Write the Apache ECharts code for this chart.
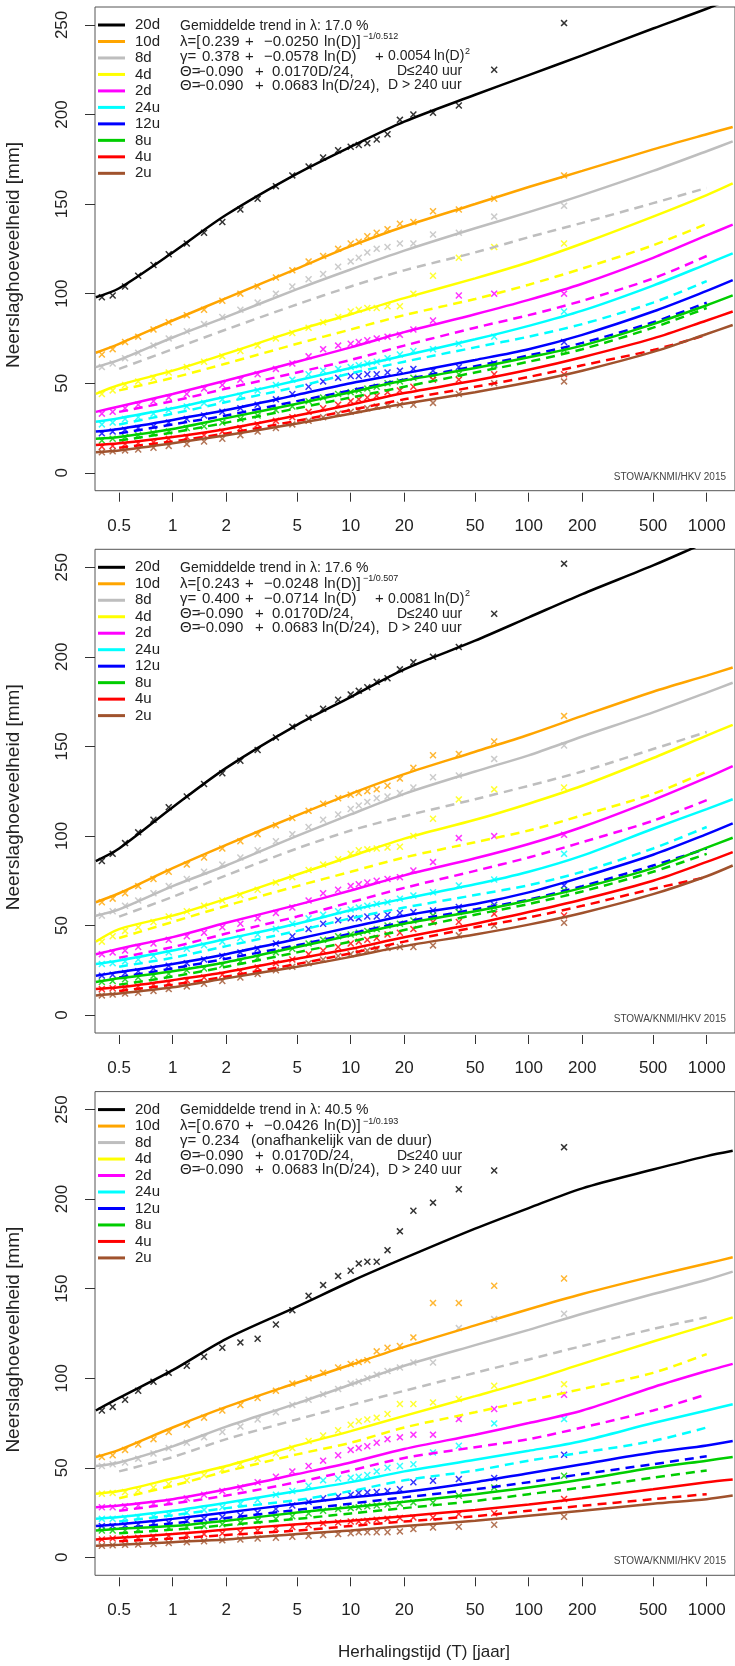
<!DOCTYPE html>
<html><head><meta charset="utf-8">
<script src="https://cdn.jsdelivr.net/npm/echarts@6/dist/echarts.min.js"></script>
<style>html,body{margin:0;padding:0;background:#fff}#c{width:735px;height:1666px}</style>
</head><body><div id="c"></div>
<script>
// ---------- data ----------
const durations = ['20d','10d','8d','4d','2d','24u','12u','8u','4u','2u'];
const colors = ['#000000','#FFA500','#BEBEBE','#FFFF00','#FF00FF','#00FFFF','#0000FF','#00CD00','#FF0000','#A0522D'];
const dashedIdx = [2,3,4,5,6,7,8];
const xTickLabels = [0.5,1,2,5,10,20,50,100,200,500,1000];
const yTickLabels = [0,50,100,150,200,250];

const tLine = [0.37,0.5,1,2,5,10,20,50,100,200,500,1000,1400];
const tDash = [0.5,1,2,5,10,20,50,100,200,500,1000];
const tObs = [158,64,40.5,29,22.5,18.9,16.1,14,12.4,11.1,10,8.5,7,5.8,4.7,3.8,3.0,2.4,1.9,1.5,1.2,0.95,0.78,0.64,0.54,0.46,0.4];

// panel 1
const p1Solid = [
 [98,103,123,144,167,182,196,211,222,233,248,259,265],
 [67,72,85,97.5,114,126.5,137.5,150,159.5,168.5,180.5,189,193],
 [59,63,75.5,87,102.5,113.5,124,136.5,145.5,155,168.5,179.5,185],
 [44,49,57,66.5,79.5,88.5,97.5,108.5,117.5,128,143,155,161.5],
 [34,37,44,51.5,62,70,78.5,88.5,96.5,105.5,120,132.5,138.5],
 [28.5,30.5,36,42.5,51.5,58.5,65.5,74.5,82,90.5,104.5,116.5,122.5],
 [23,24.5,29.5,35,43.5,50,55.5,63,69,77,90,101.5,107.5],
 [19,20,24.5,30.5,38.5,45,51.5,58.5,64.5,71,83,93.5,99],
 [15.5,16.5,20,24.5,32,38,44.5,51.5,57.5,64.5,75,85,90],
 [11.5,12.5,16.5,21,27.5,33,38.5,45,50.5,57,67.5,77.5,82.5]
];
const p1Dashed = [
 [58,69,80,94,104,113,123,131.5,139.5,150.5,159],
 [46,53,61,72,80,88,97,105,114,127,139],
 [34,40,47,56,63,71,81,88,96,108.5,121],
 [27,33,39.5,48,55.5,62,70,76,83,95,107],
 [22,27,32,40,46,52,59.5,65.5,72.5,84,95],
 [18,22.5,28,36,42,48,56,62,69,81,92],
 [14,17.5,22,29,35,41,48,53.5,60,68.5,77]
];
const p1Obs = [
 [251,225,205,201,200,197,189,186,184,183,182,180,176,171,166,160,153,147,140,134,128,122,116,110,104,99,98],
 [166,153,147,146,140,139,136,134,132,129,128,125,121,118,113,109,104,100,96,91,88,84,80,76,73,69,66],
 [149,143,134,133,128,128,126,125,123,120,118,115,111,108,104,100,95,91,87,83,79,75,71,67,64,61,59],
 [128,126,120,110,100,93,93,92,92,91,90,87,84,81,78,75,71,68,65,62,59,56,53,51,49,46,44],
 [100,100,99,85,80,77,76,75,74,73,72,71,69,65,61,58,55,52,49,47,44,42,40,38,36,34,33],
 [90,76,72,69,68,66,64,62,61,60,59,58,57,55,52,49,46,43,41,39,37,35,33,31,30,28,27],
 [73,61,59,57,58,57,56,55,55,54,54,53,51,48,44,41,38,36,34,32,30,28,26,25,24,23,22],
 [68.5,60,55,54.5,53,51,50,48,47,46,45,44,42,40,37,35,32,30,28,26,25,23,22,21,20,19,18],
 [55,55,52,52,48,46,45,43,42,41,40,38,36,34,31,29,27,25,23,21,20,19,17,16.5,16,15,14.5],
 [51,50,44,39,38,38,37.5,37,36,35,34,33,31,29,27,25,23,21,19,17.5,16,15,14,13,12.5,12,11.5]
];
// panel 2
const p2Solid = [
 [86,93,116,138,162,177.5,193,209,222,235,251,264,270],
 [63,68,82,95,111.5,123.5,134.5,147,156.5,167,180.5,189.5,194],
 [55.5,59,72,83.5,100,112,123.5,136,145,155.5,169,180,185.5],
 [41,48,55.5,65,78.5,88.5,98.5,109,118,128,143.5,156,162],
 [34,37,43.5,51.5,61.5,69.5,78,87.5,95.5,105,120,132.5,139],
 [28.5,30.5,36,42.5,51,58.5,65,73,80,89,104,115,120.5],
 [22,24,28.5,34,42.5,49,55.5,62,68.5,77,89.5,101,107],
 [18.5,20.5,24.5,29.5,38,44.5,51,58,64,71,82,93.5,99],
 [14.5,15.5,19.5,24,31.5,37,43.5,51,57.5,64.5,75,85.5,91],
 [11,12,15.5,20.5,27,32.5,38.5,45,50.5,57,67.5,77.5,83.5]
];
const p2Dashed = [
 [55,66,78,93,103,111,120.5,128,136,148.5,158],
 [43,52,61,72,80,88,96.5,103,111.5,123.5,136],
 [32,38,45.5,55,63,71,80.5,88,96.5,108.5,120],
 [27,32,38.5,47,54,60,67,72.5,80,93,105],
 [21,26,31.5,39,45.5,52,59,64.5,72,83.5,93],
 [17,21.5,27,35,41,47.5,56,62,69,80,90],
 [13.5,17,21.5,28.5,34.5,41,49,54.5,61,70.5,77]
];
const p2Obs = [
 [252,224,205.5,200,197,193,188,186,183,181,179,176,171,166,161,155,148,142,135,129,122,116,109,102,96,90,86],
 [167,152.7,145.8,145,138,132,128,126,125,124,123,121,118,114,110,106,101,97,93,88,84,80,76,72,68,65,63],
 [150.5,143,133.7,132.8,127,124,122,121,119,117,115,112,109,105,101,97,92,88,84,80,76,72,68,64,61,58,55.5],
 [127,126,120.4,109.6,100,94,93.5,93,92.5,92,90,87,84,81,77,74,70,67,64,61,58,55,52,49,47,44,41],
 [100.6,99.9,98.8,85.4,80.7,77,76,75,74,73,72,70,68,64,60,57,54,51,49,46,44,42,40,38,36,35,34],
 [90,75.7,72.4,68.6,66.8,65,63,62,61,60,59,58,56,54,51,48,45,43,41,39,37,35,33,31,30,29,28.5],
 [72.4,61.6,60.3,58.4,57.5,57,56,55,55,54,54,53,51,48,44,40,37,35,33,31,29,27.5,26,24.5,23.5,22.5,22],
 [69.6,60.3,57.5,55.6,52.8,51,50,48,47,46,45,44,42,40,37,35,32,30,28,26,25,23,22,21,20,19,18.5],
 [55.6,56.5,52,52,48,46,45,43,42,41,40,38,36,34,31,29,26.5,24.5,22.5,21,19.5,18,17,16,15.5,15,14.5],
 [51.5,50,44.5,38.9,38,38,37.5,37,36,35,34,33,31,29,27,25,23,21,19,17.5,16,14.5,13.5,12.5,12,11.5,11]
];
// panel 3
const p3Solid = [
 [82,89,104.5,122,140,154,167,183.5,195,206,216.5,224,227],
 [56,60,72.5,84,97.5,107.5,117.5,129.5,138.5,147,157,164,167.5],
 [51,53,62,73,86,96.5,107,118.5,127,136,147,155,159.5],
 [35.5,37,44,51,62.5,70.5,79,90,98.5,108,120.5,129.5,134],
 [28,29,32.5,38,46.5,53,60.5,68.5,75,82,95,104,108],
 [21.5,22.5,26,30.5,37,42,48,54.5,59.5,65,75,82,85.5],
 [17.5,18.5,21.5,25,30,33.5,36.5,42,47,52,58.5,62.5,65],
 [15,16,17.5,20.5,25,28,31,35.3,39,43.5,50,54,56],
 [10,11,13,15.5,18.5,20.5,23,26.5,29.5,33,38,42,43.5],
 [6.5,7,8.5,10,13,15,17.5,20.5,23.3,26,30,32.5,34.5]
];
const p3Dashed = [
 [48,56,66,77,85,93,103,110.5,118,127.5,134],
 [33,40,48,57.5,64,72.5,81,87.5,94,103,113.5],
 [26,30,34.5,42,48.5,55.5,61.5,66,72.5,82,91],
 [20,23.5,27.5,32,37,43,48.5,54,58.5,65,72.5],
 [16,19,22,26.5,30,33.5,38,42,46.5,52,56.5],
 [13.5,15.5,18,21.5,24.5,27.5,31.5,35.3,39,44.5,48.5],
 [9,10.5,12.5,15,17.5,20,23,26,28.8,32.5,35.3]
];
const p3Obs = [
 [229,216,205.5,198,193.5,182,171.5,165,165,164,160,157,152,146,138,130,122,120,117,112,107,103,98,93,88,84,82],
 [155.7,151.6,142,142,122.8,118,117,115,110,109,108,106,103,100,97,93,89,85,82,78,74,70,66,63,60,57,56],
 [136,133,128,108.8,108.8,106,104,102,100,98,97,94,91,88,85,81,77,73,70,67,64,61,58,55,53,52,51],
 [96.7,95.8,88.4,86.5,85.6,85.6,80,78,77,76,74,71,68,65,61,58,55,52,49,46,43,41,39,37.5,36.5,36,35.5],
 [90.8,82.8,77.2,68.5,68.5,67,66,64,62,61,60,57,54,51,48,45,42,39,37,35,33,31,30,29,28.5,28,28],
 [77.2,74.8,62.3,58.6,52,51,50,48,46,45,44.5,44,43,40,37,35,32,30,28,26.5,25,24,23,22.5,22,21.5,21.5],
 [57.3,44.3,43.7,42.8,41.9,38,37,36.5,36.3,36,35,34,33,31,29,27,25,23.5,22.5,21.5,20.5,19.5,19,18.5,18,17.5,17.5],
 [45.6,39,34.4,30.7,30.7,30,29.5,29,28.5,28,27.5,27,26,24.5,23,21.5,20.5,19.5,18.5,17.5,17,16.5,16,15.5,15,15,15],
 [32.6,24.6,24.2,22.3,22.3,22,21.5,21,20.5,20,20,19.5,19,18,17,16,15,14,13.5,13,12.5,12,11.5,11,10.5,10.5,10],
 [22.7,18.2,17.1,16.7,15.8,14.5,14,14,14,14,13.5,13,12.5,12,11.5,11,10.5,10,9.5,9,8.5,8,7.5,7.2,7,6.8,6.5]
];

// annotation texts (per panel)
const trendTexts = ['Gemiddelde trend in \u03bb: 17.0 %','Gemiddelde trend in \u03bb: 17.6 %','Gemiddelde trend in \u03bb: 40.5 %'];
const lambdaA = ['0.239','0.243','0.670'];
const lambdaB = ['\u22120.0250','\u22120.0248','\u22120.0426'];
const lambdaExps = ['\u22121/0.512','\u22121/0.507','\u22121/0.193'];
const gammaA = ['0.378','0.400','0.234'];
const gammaB = ['\u22120.0578','\u22120.0714',''];
const gammaC = ['0.0054','0.0081',''];
const gammaNote = ['','','(onafhankelijk van de duur)'];
const thetaTexts = ['0.0170D/24,','0.0683 ln(D/24),'];
const thetaConds = ['D\u2264240 uur','D > 240 uur'];
const panels = [
  {solid:p1Solid, dashed:p1Dashed, obs:p1Obs},
  {solid:p2Solid, dashed:p2Dashed, obs:p2Obs},
  {solid:p3Solid, dashed:p3Dashed, obs:p3Obs}
];

// ---------- chart ----------
const FONT = '"Liberation Sans", Arial, sans-serif';
const TXT = '#222';
const PANEL_DY = [0, 542.3, 1084.6];
const XMIN = -0.4365, XMAX = 3.159;
const xTickVals = xTickLabels.map(v => Math.log10(v));
const crossPath = 'path://M0,1.5L1.5,0L5,3.5L8.5,0L10,1.5L6.5,5L10,8.5L8.5,10L5,6.5L1.5,10L0,8.5L3.5,5Z';

const chart = echarts.init(document.getElementById('c'), null, {renderer:'canvas', width:735, height:1666});
const grids = [], xAxes = [], yAxes = [], series = [], graphics = [];

function txt(x, y, s, size, extra) {
  const o = {type:'text', x:x, y:y, z:10, silent:true,
    style:{text:s, font:size + 'px ' + FONT, fill:TXT, align:'left', verticalAlign:'middle'}};
  if (extra) Object.assign(o.style, extra);
  graphics.push(o);
}

panels.forEach((p, k) => {
  const dy = PANEL_DY[k];
  grids.push({left:95, right:-5, top:7 + dy, height:483.7, show:true, borderColor:'#555', borderWidth:1, backgroundColor:'transparent'});
  xAxes.push({type:'value', gridIndex:k, min:XMIN, max:XMAX, offset:2, position:'bottom',
    axisLine:{show:false, onZero:false}, splitLine:{show:false},
    axisTick:{show:true, customValues:xTickVals, length:9, lineStyle:{color:'#333', width:1}},
    axisLabel:{show:true, customValues:xTickVals, fontSize:17, color:TXT, margin:25, fontFamily:FONT,
      formatter: v => String(Math.round(Math.pow(10, v) * 100) / 100)}
  });
  yAxes.push({type:'value', gridIndex:k, min:-10, max:260, position:'left',
    axisLine:{show:false, onZero:false}, splitLine:{show:false},
    axisTick:{show:true, customValues:yTickLabels, length:10, lineStyle:{color:'#333', width:1}},
    axisLabel:{show:true, customValues:yTickLabels, rotate:90, margin:24, fontSize:17, color:TXT, fontFamily:FONT}
  });
  // observations
  p.obs.forEach((vals, d) => {
    series.push({type:'scatter', name:'obs-' + durations[d], xAxisIndex:k, yAxisIndex:k, silent:true,
      symbol:crossPath, symbolSize:7, itemStyle:{color:colors[d]},
      data: tObs.map((t, j) => [Math.log10(t), vals[j]]), z:2});
  });
  // dashed fits
  p.dashed.forEach((vals, n) => {
    const d = dashedIdx[n];
    series.push({type:'line', name:'dash-' + durations[d], xAxisIndex:k, yAxisIndex:k, silent:true,
      symbol:'none', smooth:0.3, lineStyle:{color:colors[d], width:2.5, type:[9,6]},
      data: tDash.map((t, j) => [Math.log10(t), vals[j]]), z:3});
  });
  // solid fits
  p.solid.forEach((vals, d) => {
    series.push({type:'line', name:durations[d], xAxisIndex:k, yAxisIndex:k, silent:true,
      symbol:'none', smooth:0.3, lineStyle:{color:colors[d], width:2.5},
      data: tLine.map((t, j) => [Math.log10(t), vals[j]]), z:4});
  });

  // legend (drawn)
  durations.forEach((name, d) => {
    const y = 25 + 16.48 * d + dy;
    graphics.push({type:'line', silent:true, shape:{x1:98, y1:y, x2:125, y2:y}, style:{stroke:colors[d], lineWidth:3}, z:10});
    txt(135, y, name, 15);
  });
  // formula block
  const r1 = 26 + dy, r2 = 41.5 + dy, r3 = 56.5 + dy, r4 = 71.5 + dy, r5 = 85.5 + dy;
  txt(180, r1, trendTexts[k], 14);
  txt(180, r2, '\u03bb=[', 15);
  txt(202, r2, lambdaA[k], 15);
  txt(245, r2, '+', 15);
  txt(264, r2, lambdaB[k], 15);
  txt(324, r2, 'ln(D)]', 15);
  txt(363, r2 - 5, lambdaExps[k], 9);
  txt(180, r3, '\u03b3=', 15);
  txt(202, r3, gammaA[k], 15);
  if (gammaNote[k]) {
    txt(251, r3, gammaNote[k], 15);
  } else {
    txt(245, r3, '+', 15);
    txt(264, r3, gammaB[k], 15);
    txt(324, r3, 'ln(D)', 15);
    txt(375, r3, '+', 15);
    txt(388, r3, gammaC[k], 14);
    txt(434, r3, 'ln(D)', 14);
    txt(465, r3 - 5, '2', 9);
  }
  [r4, r5].forEach((y, r) => {
    txt(180, y, '\u0398=', 15);
    txt(197, y, '\u22120.090', 15);
    txt(255, y, '+', 15);
    txt(272, y, thetaTexts[r], 15);
    txt(r === 0 ? 397 : 388, y, thetaConds[r], 14);
  });
  // credit
  txt(726, 477 + dy, 'STOWA/KNMI/HKV 2015', 10, {align:'right', fill:'#444'});
  // y title
  graphics.push({type:'text', x:14, y:255 + dy, rotation:Math.PI / 2, silent:true, z:10,
    style:{text:'Neerslaghoeveelheid [mm]', font:'19px ' + FONT, fill:TXT, align:'center', verticalAlign:'middle'}});
});
graphics.push({type:'text', x:424, y:1652, silent:true, z:10,
  style:{text:'Herhalingstijd (T) [jaar]', font:'17px ' + FONT, fill:TXT, align:'center', verticalAlign:'middle'}});

chart.setOption({
  animation:false,
  backgroundColor:'#ffffff',
  textStyle:{fontFamily:FONT},
  grid:grids, xAxis:xAxes, yAxis:yAxes, series:series, graphic:{elements:graphics}
});
</script>
</body></html>
